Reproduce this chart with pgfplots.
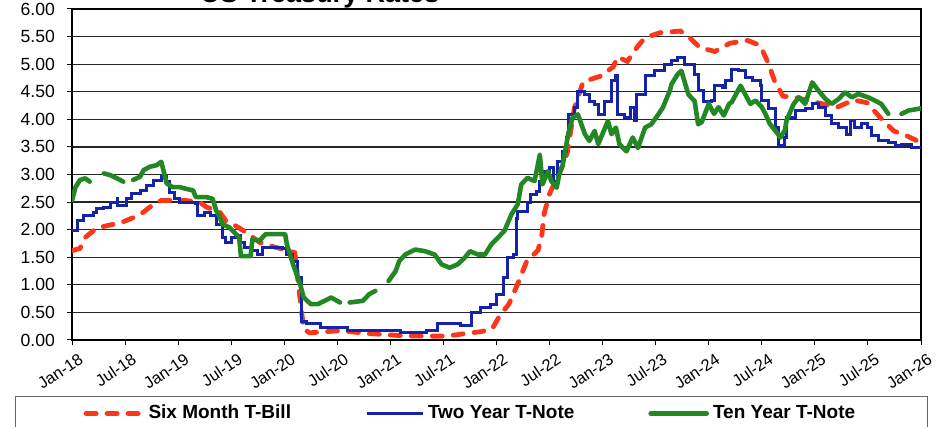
\documentclass[border=0pt]{standalone}
\usepackage{fontspec}
\setmainfont{Liberation Sans}
\usepackage{pgfplots}
\pgfplotsset{compat=1.18}
\definecolor{tbill}{RGB}{250,55,25}
\definecolor{two}{RGB}{20,35,170}
\definecolor{ten}{RGB}{35,135,35}
\begin{document}
\begin{tikzpicture}
\begin{axis}[
 at={(0,0)}, anchor=south west,
 scale only axis, width=424.5pt, height=165.5pt,
 xmin=0, xmax=96, ymin=0, ymax=6,
 xtick={0,6,12,18,24,30,36,42,48,54,60,66,72,78,84,90,96},
 xticklabels={Jan-18,Jul-18,Jan-19,Jul-19,Jan-20,Jul-20,Jan-21,Jul-21,Jan-22,Jul-22,Jan-23,Jul-23,Jan-24,Jul-24,Jan-25,Jul-25,Jan-26},
 ytick={0,0.5,1,1.5,2,2.5,3,3.5,4,4.5,5,5.5,6},
 yticklabel style={font=\fontsize{8.8}{10}\selectfont, xshift=-2.5pt, /pgf/number format/fixed, /pgf/number format/fixed zerofill, /pgf/number format/precision=2, /pgf/number format/assume math mode=true},
 ymajorgrids, grid style={black!85, line width=0.6pt},
 axis line style={black, line width=0.9pt},
 tick align=outside, major tick length=2.5pt, tick style={black, line width=0.5pt},
 xtick pos=bottom, ytick pos=left,
 xticklabel style={font=\fontsize{8.2}{9}\selectfont, rotate=34, anchor=north east, inner sep=1pt, yshift=-3.5pt, xshift=1.5pt},
 unbounded coords=jump,
 legend columns=3,
 legend style={at={(-0.067,-0.168)}, anchor=north west, draw=black!60, line width=0.6pt,
   inner xsep=34pt, inner ysep=2.5pt, font=\bfseries\fontsize{9.5}{11}\selectfont,
   /tikz/every even column/.append style={column sep=35pt}},
 legend image code/.code={\draw[#1] (0pt,0pt) -- (28pt,0pt);},
]
\addplot[tbill, line width=2.4pt, line cap=round, dash pattern=on 5pt off 5.5pt] coordinates {
(0,1.62)(0.9,1.66)(1.5,1.86)(2.8,2.03)(3.9,2.07)(5.6,2.13)(7.1,2.23)(8.1,2.32)(9.2,2.46)(10.1,2.53)
(11.4,2.53)(12.7,2.53)(14.4,2.50)(15.2,2.41)(16.7,2.32)(17.4,2.16)(18.2,2.10)(19.7,1.95)(21.2,1.77)
(23.0,1.68)(24.5,1.62)(25.2,1.58)(25.6,1.00)(26.2,0.19)(26.9,0.13)(30.3,0.17)(33.3,0.12)(37.1,0.08)
(39.7,0.07)(42.4,0.07)(44.6,0.12)(46.2,0.15)(47.5,0.20)(48.4,0.45)(49.4,0.65)(50.3,0.98)(51.4,1.42)
(52.7,1.63)(53.1,1.87)(53.4,2.30)(54.0,2.65)(55.6,3.20)(56.0,3.40)(56.8,4.20)(57.8,4.68)(59.7,4.78)
(61.2,4.95)(61.7,5.13)(62.8,5.05)(63.9,5.31)(64.8,5.48)(66.5,5.57)(68.8,5.60)(69.9,5.47)(71.0,5.30)
(72.7,5.23)(74.4,5.38)(76.4,5.43)(77.8,5.34)(78.7,5.03)(79.5,4.67)(80.4,4.42)(82.0,4.39)(83.8,4.32)
(86.5,4.22)(88.4,4.35)(89.9,4.30)(91.4,4.03)(92.9,3.79)(94.4,3.70)(95.7,3.60)(96,3.58)};
\addlegendentry{Six Month T-Bill}
\addplot[two, line width=1.5pt, const plot] coordinates {
(0,1.98)(0.6,2.16)(1.3,2.26)(2.4,2.32)(2.8,2.38)(3.6,2.41)(4.3,2.50)(5.1,2.56)(5.2,2.44)(6.2,2.56)
(6.7,2.65)(7.7,2.71)(8.4,2.80)(9.2,2.90)(9.9,2.90)(10.1,2.99)(10.7,2.87)(11.0,2.68)(11.6,2.56)(12.2,2.50)
(13.3,2.50)(14.0,2.47)(14.2,2.26)(15.0,2.32)(15.7,2.26)(16.3,2.10)(17.0,1.86)(17.4,1.77)(18.0,1.86)
(18.5,1.89)(19.1,1.77)(19.5,1.68)(20.2,1.62)(21.0,1.55)(21.5,1.68)(22.7,1.68)(23.8,1.65)(24.3,1.55)
(24.9,1.43)(25.5,1.13)(26.0,0.34)(26.5,0.29)(28.1,0.23)(31.1,0.17)(34.0,0.17)(37.1,0.14)(40.1,0.17)
(41.3,0.29)(42.4,0.29)(43.9,0.26)(45.2,0.50)(46.2,0.59)(47.3,0.65)(48.0,0.83)(48.8,1.13)(49.2,1.49)
(49.9,1.55)(50.3,2.20)(50.4,2.33)(51.5,2.50)(51.9,2.64)(52.5,2.70)(52.9,2.88)(53.4,3.06)(54.0,3.12)
(54.4,2.88)(54.9,3.24)(55.5,3.42)(55.9,3.67)(56.1,4.09)(56.8,4.21)(57.2,4.50)(58.0,4.45)(58.5,4.33)
(59.1,4.27)(59.5,4.09)(60.2,4.33)(61.0,4.70)(61.5,4.79)(61.7,4.09)(62.5,4.03)(63.1,4.21)(63.6,3.97)
(63.8,4.45)(64.8,4.79)(65.9,4.88)(67.0,5.00)(67.8,5.06)(68.5,5.12)(69.3,5.00)(70.4,4.82)(70.8,4.52)
(71.4,4.33)(72.3,4.35)(72.6,4.61)(73.5,4.58)(73.9,4.70)(74.6,4.91)(75.4,4.88)(76.1,4.76)(76.9,4.70)
(77.8,4.61)(78.0,4.34)(78.8,4.19)(79.5,3.86)(79.9,3.52)(80.6,3.67)(80.8,4.04)(81.8,4.16)(82.9,4.19)
(83.7,4.28)(84.4,4.22)(85.2,4.07)(85.9,3.92)(86.7,3.86)(87.6,3.73)(88.0,3.98)(88.5,3.86)(89.3,3.92)
(90.0,3.86)(90.4,3.70)(91.2,3.61)(92.3,3.58)(93.1,3.52)(93.8,3.55)(94.9,3.49)(96,3.46)};
\addlegendentry{Two Year T-Note}
\addplot[ten, line width=2.3pt, line cap=round, line join=round] coordinates {
(0,2.53)(0.4,2.77)(0.9,2.90)(1.5,2.93)(2.0,2.87)(2.4,nan)
(3.6,3.02)(4.3,2.99)(5.1,2.93)(5.8,2.87)(6.3,nan)
(6.9,2.90)(7.7,2.96)(8.1,3.08)(8.8,3.14)(9.6,3.17)(10.1,3.23)(10.7,2.84)(11.4,2.77)(12.2,2.77)
(12.9,2.74)(13.7,2.71)(14.0,2.59)(15.2,2.59)(15.9,2.56)(16.3,2.35)(16.7,2.23)(17.0,2.10)(17.8,2.04)
(18.9,1.86)(19.1,1.52)(20.2,1.52)(20.4,1.83)(21.2,1.80)(21.9,1.92)(23.0,1.92)(24.1,1.92)(24.3,1.73)
(25.0,1.37)(25.8,1.01)(26.2,0.77)(27.0,0.65)(27.8,0.65)(29.3,0.77)(30.3,0.68)(30.8,nan)
(31.4,0.68)(32.9,0.71)(33.6,0.83)(34.3,0.89)(35.0,nan)
(35.8,1.07)(36.6,1.25)(37.0,1.43)(37.7,1.55)(38.8,1.64)(39.9,1.61)(41.0,1.55)(41.8,1.37)(42.7,1.31)
(43.6,1.37)(44.4,1.49)(45.0,1.61)(45.9,1.55)(46.7,1.55)(47.4,1.73)(48.2,1.86)(48.9,1.98)(49.7,2.28)
(50.4,2.46)(50.8,2.82)(51.5,2.94)(52.3,2.88)(52.9,3.36)(53.2,2.82)(53.8,3.06)(54.2,2.88)(54.8,2.76)
(55.1,3.00)(55.5,3.18)(56.1,3.73)(56.6,4.03)(57.2,4.09)(58.0,3.73)(58.5,3.61)(59.1,3.79)(59.5,3.55)
(60.6,3.97)(61.0,3.73)(61.5,3.85)(61.9,3.55)(62.7,3.42)(63.4,3.67)(64.0,3.48)(64.8,3.85)(65.5,3.91)
(66.3,4.09)(66.8,4.21)(67.6,4.52)(67.8,4.64)(68.5,4.82)(68.9,4.88)(69.7,4.45)(70.4,4.33)(70.8,3.91)
(71.2,3.95)(72.0,4.28)(72.6,4.10)(73.1,4.22)(73.7,4.07)(74.3,4.28)(74.6,4.31)(75.6,4.61)(76.1,4.46)
(76.7,4.28)(77.3,4.34)(78.0,4.22)(78.4,4.10)(78.9,3.92)(79.5,3.80)(80.1,3.67)(80.6,3.80)(80.8,3.98)
(81.6,4.28)(82.2,4.40)(82.9,4.28)(83.7,4.67)(84.4,4.52)(85.2,4.37)(85.9,4.28)(86.7,4.37)(87.4,4.49)
(88.2,4.40)(88.9,4.46)(90.0,4.40)(90.8,4.34)(91.5,4.28)(92.3,4.10)(93.0,nan)
(93.8,4.10)(94.6,4.16)(95.7,4.19)(96,4.20)};
\addlegendentry{Ten Year T-Note}
\end{axis}
\node[anchor=base, font=\bfseries\fontsize{13.5}{15}\selectfont] at (124pt,168.5pt) {US Treasury Rates};
\pgfresetboundingbox
\path[use as bounding box] (-36pt,-43.5pt) rectangle (432.5pt,170pt);
\end{tikzpicture}
\end{document}
